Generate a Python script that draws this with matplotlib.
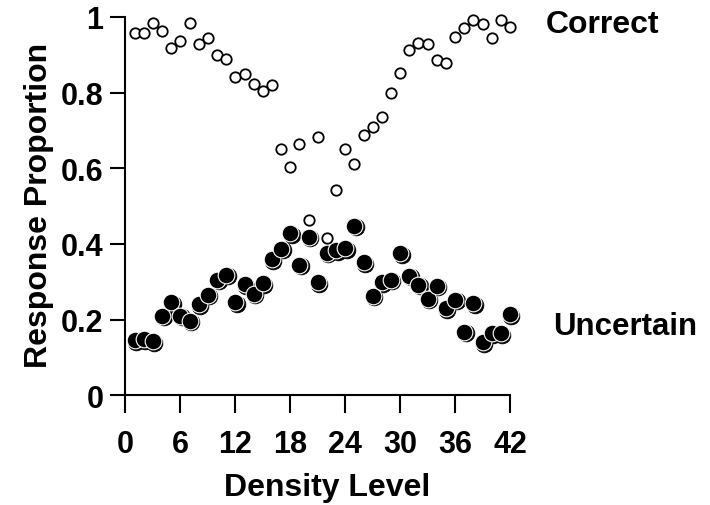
import matplotlib
matplotlib.use("Agg")
import matplotlib.pyplot as plt
import matplotlib.transforms as mtransforms
import numpy as np

plt.rcParams['font.family'] = ['Liberation Sans', 'DejaVu Sans']
plt.rcParams['font.weight'] = 'bold'

# density levels 1..42
density = list(range(1, 43))

# proportion correct (open circles)
correct = [0.957, 0.957, 0.985, 0.964, 0.918, 0.937, 0.983, 0.928, 0.944, 0.900,
           0.888, 0.842, 0.850, 0.824, 0.803, 0.821, 0.650, 0.603, 0.665, 0.464,
           0.683, 0.415, 0.543, 0.652, 0.611, 0.688, 0.710, 0.735, 0.799, 0.851,
           0.913, 0.931, 0.928, 0.887, 0.877, 0.948, 0.970, 0.993, 0.980, 0.943,
           0.993, 0.973]

# proportion uncertain (filled circles)
uncertain = [0.146, 0.148, 0.143, 0.211, 0.246, 0.211, 0.197, 0.241, 0.266, 0.305,
             0.319, 0.246, 0.293, 0.268, 0.296, 0.360, 0.387, 0.428, 0.345, 0.419,
             0.299, 0.377, 0.384, 0.389, 0.448, 0.352, 0.263, 0.299, 0.306, 0.375,
             0.316, 0.292, 0.255, 0.290, 0.230, 0.253, 0.168, 0.244, 0.140, 0.164,
             0.164, 0.215]

xticks = [0, 6, 12, 18, 24, 30, 36, 42]
yticks = [0, 0.2, 0.4, 0.6, 0.8, 1.0]
ytick_labels = ['0', '0.2', '0.4', '0.6', '0.8', '1']

fig = plt.figure(figsize=(7.1, 5.06), dpi=100)
ax = fig.add_axes([125.5 / 710, 109.6 / 506, 384.5 / 710, 378.5 / 506])

# filled points with a small drop shadow
shadow = mtransforms.offset_copy(ax.transData, fig=fig, x=1.5, y=-1.5, units='dots')
ax.plot(density, uncertain, 'o', ms=12, mfc='black', mec='black', mew=0.6,
        transform=shadow, clip_on=False, zorder=3)
ax.plot(density, uncertain, 'o', ms=12, mfc='black', mec='white', mew=0.8,
        clip_on=False, zorder=4)

# open points
ax.plot(density, correct, 'o', ms=7.5, mfc='white', mec='black', mew=1.3,
        clip_on=False, zorder=5)

ax.set_xlim(0, 42)
ax.set_ylim(0, 1)
ax.set_xticks(xticks)
ax.set_xticklabels([str(t) for t in xticks])
ax.set_yticks(yticks)
ax.set_yticklabels(ytick_labels)

for s in ['top', 'right']:
    ax.spines[s].set_visible(False)
for s in ['left', 'bottom']:
    ax.spines[s].set_linewidth(1.5)

ax.tick_params(axis='x', direction='out', length=13, width=1.5, labelsize=22, pad=11)
ax.tick_params(axis='y', direction='out', length=11, width=1.5, labelsize=22, pad=5)

ax.set_xlabel('Density Level', fontsize=23, fontweight='bold')
ax.xaxis.label.set_va('top')
ax.xaxis.set_label_coords((327 - 125.5) / 384.5, (396.4 - 473) / 378.5)

ax.set_ylabel('Response Proportion', fontsize=23, fontweight='bold')
ax.yaxis.label.set_va('center')
ax.yaxis.set_label_coords((39 - 125.5) / 384.5, (396.4 - 205.5) / 378.5)

fig.text(546 / 710, 1 - 33 / 506, 'Correct', fontsize=23, fontweight='bold',
         va='baseline', ha='left')
fig.text(553 / 710, 1 - 335 / 506, 'Uncertain', fontsize=22.5, fontweight='bold',
         va='baseline', ha='left')

fig.savefig('out.png', dpi=100)
